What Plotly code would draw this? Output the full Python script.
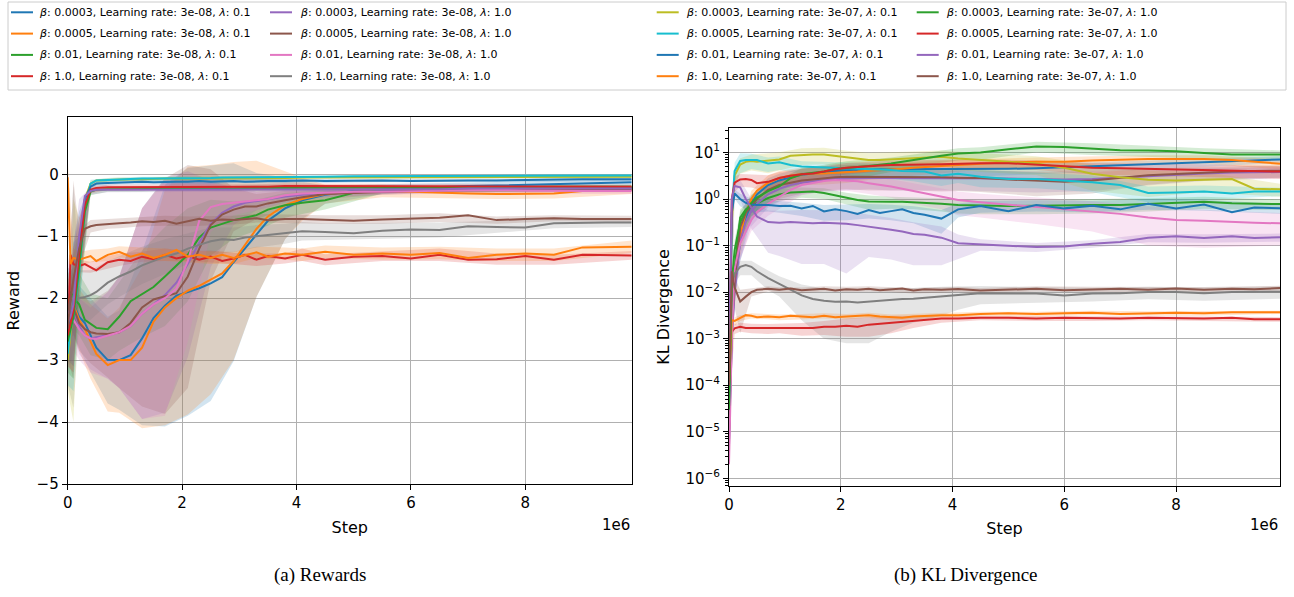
import plotly.graph_objects as go

# ---------------- data (steps in units of 1e6) ----------------
X_STEPS = [0, 0.05, 0.1, 0.2, 0.3, 0.4, 0.5, 0.7, 0.9, 1.1, 1.3, 1.5, 1.7, 1.9,
           2.1, 2.3, 2.5, 2.7, 2.9, 3.1, 3.3, 3.5, 3.8, 4.1, 4.5, 5.0, 5.5, 6.0,
           6.5, 7.0, 7.5, 8.0, 8.5, 9.0, 9.4, 9.86]
XB_STEPS = [0, 0.1, 0.2, 0.4, 0.7, 0.9, 1.3, 1.7, 2.1, 2.5, 2.9, 3.3, 3.8, 4.1,
            4.5, 5.5, 6.5, 7.5, 8.5, 9.86]

BETAS = ["0.0003", "0.0005", "0.01", "1.0"] * 4
LRS = ["3e-08"] * 8 + ["3e-07"] * 8
LAMBDAS = (["0.1"] * 4 + ["1.0"] * 4) * 2
COLORS = ["#1f77b4", "#ff7f0e", "#2ca02c", "#d62728", "#9467bd", "#8c564b",
          "#e377c2", "#7f7f7f", "#bcbd22", "#17becf", "#1f77b4", "#ff7f0e",
          "#2ca02c", "#d62728", "#9467bd", "#8c564b"]

# ---- Reward means ----
R_MEAN_01 = [-2.0, -1.9, -2.1, -2.3, -2.4, -2.6, -2.8, -3.0, -3.0, -2.92, -2.65, -2.32, -2.12, -1.96,
             -1.9, -1.84, -1.76, -1.66, -1.42, -1.2, -0.98, -0.75, -0.55, -0.42, -0.33, -0.27, -0.24, -0.22,
             -0.2, -0.19, -0.18, -0.17, -0.16, -0.14, -0.13, -0.13]
R_MEAN_02 = [-2.2, -2.0, -2.1, -2.35, -2.5, -2.7, -2.9, -3.08, -3.0, -3.0, -2.8, -2.38, -2.15, -2.0,
             -1.88, -1.8, -1.7, -1.6, -1.4, -1.15, -0.88, -0.68, -0.5, -0.4, -0.32, -0.28, -0.27, -0.28,
             -0.3, -0.31, -0.32, -0.32, -0.31, -0.27, -0.26, -0.25]
R_MEAN_03 = [-2.1, -1.9, -2.0, -2.1, -2.35, -2.42, -2.48, -2.5, -2.3, -2.05, -1.93, -1.82, -1.65, -1.48,
             -1.3, -1.02, -0.86, -0.8, -0.74, -0.7, -0.66, -0.57, -0.5, -0.46, -0.42, -0.3, -0.26, -0.25,
             -0.24, -0.24, -0.23, -0.23, -0.22, -0.22, -0.22, -0.22]
R_MEAN_04 = [-2.8, -1.3, -1.45, -1.48, -1.45, -1.5, -1.55, -1.42, -1.38, -1.4, -1.33, -1.37, -1.3, -1.36,
             -1.32, -1.38, -1.33, -1.4, -1.36, -1.3, -1.38, -1.32, -1.36, -1.3, -1.38, -1.33, -1.32, -1.36,
             -1.3, -1.38, -1.37, -1.32, -1.38, -1.3, -1.31, -1.31]
R_MEAN_05 = [-2.3, -2.1, -2.2, -2.45, -2.6, -2.65, -2.63, -2.6, -2.55, -2.45, -2.25, -2.1, -1.95, -1.75,
             -1.45, -1.1, -0.8, -0.62, -0.52, -0.46, -0.43, -0.4, -0.36, -0.33, -0.3, -0.28, -0.27, -0.26,
             -0.25, -0.25, -0.24, -0.24, -0.24, -0.23, -0.23, -0.23]
R_MEAN_06 = [-2.2, -2.0, -2.15, -2.4, -2.5, -2.55, -2.57, -2.58, -2.55, -2.4, -2.15, -2.02, -1.97, -1.92,
             -1.65, -1.2, -0.82, -0.65, -0.57, -0.52, -0.52, -0.47, -0.42, -0.37, -0.32, -0.3, -0.28, -0.27,
             -0.26, -0.26, -0.25, -0.25, -0.25, -0.25, -0.25, -0.25]
R_MEAN_07 = [-2.3, -2.2, -2.35, -2.5, -2.6, -2.65, -2.66, -2.6, -2.55, -2.45, -2.25, -2.1, -2.0, -1.85,
             -1.4, -0.75, -0.53, -0.48, -0.46, -0.45, -0.43, -0.4, -0.34, -0.31, -0.3, -0.28, -0.28, -0.27,
             -0.26, -0.26, -0.25, -0.26, -0.27, -0.27, -0.27, -0.27]
R_MEAN_08 = [-2.6, -2.2, -1.97, -2.0, -1.98, -1.95, -1.9, -1.75, -1.65, -1.57, -1.47, -1.4, -1.33, -1.28,
             -1.2, -1.14, -1.08, -1.05, -1.06, -1.02, -1.0, -0.98, -0.96, -0.92, -0.93, -0.95, -0.91, -0.89,
             -0.9, -0.84, -0.85, -0.86, -0.79, -0.78, -0.78, -0.78]
R_MEAN_09 = [-3.0, -2.6, -2.2, -1.3, -0.4, -0.15, -0.1, -0.09, -0.08, -0.08, -0.08, -0.07, -0.07, -0.07,
             -0.07, -0.07, -0.06, -0.06, -0.06, -0.06, -0.06, -0.06, -0.06, -0.05, -0.05, -0.05, -0.05, -0.05,
             -0.05, -0.04, -0.04, -0.04, -0.04, -0.04, -0.04, -0.04]
R_MEAN_10 = [-2.9, -2.5, -2.3, -1.6, -0.55, -0.15, -0.1, -0.09, -0.08, -0.08, -0.07, -0.07, -0.07, -0.06,
             -0.06, -0.06, -0.06, -0.05, -0.05, -0.05, -0.05, -0.05, -0.04, -0.04, -0.04, -0.03, -0.03, -0.03,
             -0.03, -0.03, -0.03, -0.02, -0.02, -0.02, -0.02, -0.02]
R_MEAN_11 = [-2.5, -2.3, -2.1, -1.2, -0.4, -0.2, -0.15, -0.14, -0.13, -0.13, -0.12, -0.13, -0.12, -0.12,
             -0.12, -0.11, -0.12, -0.11, -0.11, -0.12, -0.11, -0.11, -0.11, -0.1, -0.11, -0.1, -0.1, -0.11,
             -0.1, -0.1, -0.1, -0.09, -0.09, -0.08, -0.08, -0.08]
R_MEAN_12 = [-0.05, -1.45, -1.35, -1.38, -1.35, -1.32, -1.4, -1.3, -1.25, -1.33, -1.28, -1.35, -1.3, -1.22,
             -1.33, -1.3, -1.35, -1.3, -1.35, -1.3, -1.26, -1.33, -1.28, -1.3, -1.25, -1.3, -1.28, -1.3,
             -1.27, -1.35, -1.3, -1.28, -1.3, -1.18, -1.17, -1.17]
R_MEAN_13 = [-2.7, -2.5, -2.3, -1.5, -0.6, -0.28, -0.25, -0.24, -0.24, -0.24, -0.24, -0.24, -0.23, -0.23,
             -0.23, -0.23, -0.23, -0.23, -0.23, -0.22, -0.22, -0.22, -0.22, -0.22, -0.22, -0.22, -0.21, -0.21,
             -0.21, -0.21, -0.21, -0.21, -0.2, -0.2, -0.2, -0.2]
R_MEAN_14 = [-2.6, -2.4, -2.2, -1.3, -0.5, -0.25, -0.22, -0.21, -0.21, -0.21, -0.21, -0.2, -0.2, -0.2,
             -0.2, -0.2, -0.2, -0.2, -0.2, -0.2, -0.2, -0.2, -0.19, -0.19, -0.19, -0.19, -0.19, -0.19,
             -0.19, -0.19, -0.19, -0.19, -0.19, -0.2, -0.2, -0.2]
R_MEAN_15 = [-2.4, -2.3, -2.1, -1.0, -0.35, -0.27, -0.25, -0.25, -0.25, -0.25, -0.25, -0.25, -0.25, -0.25,
             -0.25, -0.25, -0.25, -0.25, -0.24, -0.24, -0.24, -0.24, -0.24, -0.24, -0.24, -0.24, -0.24, -0.24,
             -0.24, -0.23, -0.23, -0.23, -0.23, -0.23, -0.23, -0.23]
R_MEAN_16 = [-2.5, -2.0, -1.7, -1.2, -0.88, -0.84, -0.82, -0.8, -0.79, -0.78, -0.76, -0.77, -0.75, -0.8,
             -0.76, -0.72, -0.75, -0.73, -0.74, -0.73, -0.71, -0.74, -0.72, -0.72, -0.73, -0.75, -0.73, -0.72,
             -0.7, -0.66, -0.74, -0.72, -0.71, -0.72, -0.72, -0.72]

# ---- Reward std (at XB_STEPS) ----
R_STD_01 = [0.5, 0.5, 0.5, 0.6, 0.7, 0.8, 1.4, 1.95, 2.0, 1.9, 1.6, 1.0, 0.5, 0.3, 0.15, 0.08, 0.06, 0.05, 0.05, 0.05]
R_STD_02 = [0.5, 0.5, 0.5, 0.6, 0.75, 0.85, 1.3, 1.9, 2.0, 1.85, 1.6, 1.1, 0.55, 0.35, 0.15, 0.1, 0.08, 0.08, 0.08, 0.07]
R_STD_03 = [0.5, 0.5, 0.5, 0.5, 0.5, 0.55, 0.7, 0.8, 0.75, 0.45, 0.3, 0.25, 0.2, 0.18, 0.15, 0.05, 0.04, 0.03, 0.03, 0.03]
R_STD_04 = [0.4, 0.1, 0.1, 0.09, 0.1, 0.1, 0.08, 0.1, 0.08, 0.1, 0.09, 0.1, 0.08, 0.1, 0.09, 0.08, 0.1, 0.09, 0.08, 0.07]
R_STD_05 = [0.4, 0.4, 0.45, 0.5, 0.7, 0.9, 1.7, 1.9, 1.5, 0.7, 0.3, 0.15, 0.1, 0.08, 0.07, 0.05, 0.04, 0.04, 0.04, 0.04]
R_STD_06 = [0.4, 0.4, 0.45, 0.5, 0.7, 0.9, 1.6, 1.9, 1.8, 0.9, 0.35, 0.2, 0.15, 0.1, 0.08, 0.05, 0.04, 0.04, 0.04, 0.04]
R_STD_07 = [1.0, 0.5, 0.5, 0.55, 0.7, 0.9, 1.7, 1.9, 1.3, 0.4, 0.2, 0.15, 0.1, 0.08, 0.06, 0.05, 0.05, 0.05, 0.05, 0.05]
R_STD_08 = [0.8, 1.8, 0.45, 0.4, 0.35, 0.33, 0.3, 0.28, 0.25, 0.22, 0.2, 0.18, 0.16, 0.15, 0.14, 0.13, 0.12, 0.1, 0.08, 0.07]
R_STD_09 = [0.5, 1.8, 0.6, 0.05, 0.03, 0.03, 0.03, 0.03, 0.03, 0.03, 0.03, 0.02, 0.02, 0.02, 0.02, 0.02, 0.02, 0.02, 0.02, 0.02]
R_STD_10 = [0.5, 1.2, 0.6, 0.06, 0.03, 0.03, 0.03, 0.03, 0.03, 0.02, 0.02, 0.02, 0.02, 0.02, 0.02, 0.02, 0.02, 0.02, 0.02, 0.02]
R_STD_11 = [0.5, 1.0, 0.6, 0.06, 0.04, 0.04, 0.04, 0.04, 0.04, 0.04, 0.03, 0.03, 0.03, 0.03, 0.03, 0.03, 0.03, 0.03, 0.03, 0.03]
R_STD_12 = [0.3, 0.15, 0.12, 0.1, 0.1, 0.09, 0.1, 0.1, 0.09, 0.1, 0.1, 0.09, 0.1, 0.1, 0.1, 0.1, 0.1, 0.1, 0.1, 0.1]
R_STD_13 = [0.5, 1.0, 0.6, 0.06, 0.04, 0.04, 0.04, 0.04, 0.04, 0.04, 0.04, 0.04, 0.04, 0.04, 0.04, 0.03, 0.03, 0.03, 0.03, 0.03]
R_STD_14 = [0.5, 1.0, 0.6, 0.06, 0.04, 0.04, 0.04, 0.04, 0.04, 0.04, 0.04, 0.04, 0.04, 0.04, 0.04, 0.03, 0.03, 0.03, 0.03, 0.03]
R_STD_15 = [0.5, 1.0, 0.6, 0.06, 0.04, 0.04, 0.04, 0.04, 0.04, 0.04, 0.04, 0.04, 0.04, 0.04, 0.04, 0.03, 0.03, 0.03, 0.03, 0.03]
R_STD_16 = [0.5, 1.6, 0.3, 0.1, 0.08, 0.08, 0.08, 0.08, 0.08, 0.07, 0.07, 0.07, 0.07, 0.07, 0.07, 0.07, 0.07, 0.06, 0.05, 0.05]

# ---- KL means ----
KL_MEAN_01 = [6.3e-6, 0.0016, 0.0126, 0.126, 0.4, 0.79, 1.26, 2.0, 2.51, 2.95, 3.31, 3.55, 3.8, 3.98,
              4.17, 4.27, 4.27, 4.37, 4.37, 4.37, 4.37, 4.37, 4.37, 4.37, 4.37, 4.47, 4.57, 4.79,
              5.01, 5.25, 5.5, 5.75, 6.03, 6.31, 6.76, 7.08]
KL_MEAN_02 = [1e-5, 0.0032, 0.02, 0.16, 0.5, 1.0, 1.51, 2.24, 2.82, 3.16, 3.39, 3.55, 3.55, 3.63,
              3.72, 3.89, 4.07, 4.17, 4.27, 4.47, 4.68, 4.79, 5.13, 5.37, 5.75, 6.17, 6.31, 6.31,
              6.76, 7.08, 7.24, 7.24, 7.24, 6.92, 6.31, 5.75]
KL_MEAN_03 = [1e-5, 0.0032, 0.0316, 0.4, 0.6, 0.72, 0.81, 1.05, 1.26, 1.38, 1.41, 1.45, 1.35, 1.2,
              1.07, 0.95, 0.89, 0.87, 0.87, 0.87, 0.85, 0.83, 0.79, 0.74, 0.72, 0.71, 0.72, 0.74,
              0.74, 0.74, 0.79, 0.83, 0.87, 0.81, 0.79, 0.78]
KL_MEAN_04 = [3.2e-5, 0.0014, 0.00166, 0.0018, 0.0017, 0.0017, 0.0017, 0.00166, 0.0017, 0.0017, 0.00166, 0.0017, 0.0018, 0.0018,
              0.0019, 0.0018, 0.002, 0.0021, 0.0022, 0.0023, 0.0024, 0.0025, 0.0027, 0.0027, 0.0028, 0.0028, 0.0027, 0.0028,
              0.0027, 0.0027, 0.0028, 0.0027, 0.0027, 0.0028, 0.0026, 0.0026]
KL_MEAN_05 = [5e-6, 0.001, 0.01, 0.126, 0.32, 0.56, 0.79, 1.26, 1.66, 2.0, 2.24, 2.4, 2.57, 2.69,
              2.75, 2.82, 2.82, 2.82, 2.82, 2.82, 2.82, 2.82, 2.82, 2.82, 2.82, 2.75, 2.69, 2.63,
              2.69, 2.88, 3.16, 3.39, 3.55, 3.72, 3.8, 3.8]
KL_MEAN_06 = [1e-5, 0.002, 0.0158, 0.25, 0.5, 0.71, 1.0, 1.58, 2.0, 2.24, 2.51, 2.63, 2.82, 2.95,
              3.02, 3.02, 3.02, 3.02, 3.02, 3.02, 3.02, 3.02, 2.95, 2.88, 2.82, 2.63, 2.45, 2.34,
              2.51, 2.88, 3.24, 3.47, 3.72, 3.89, 3.98, 4.07]
KL_MEAN_07 = [2e-6, 0.001, 0.0316, 0.112, 0.2, 0.355, 0.525, 0.79, 1.12, 1.58, 2.0, 2.24, 2.45, 2.57,
              2.51, 2.4, 2.19, 2.04, 1.86, 1.66, 1.48, 1.32, 1.15, 0.95, 0.85, 0.76, 0.69, 0.62,
              0.55, 0.48, 0.4, 0.355, 0.34, 0.32, 0.31, 0.3]
KL_MEAN_08 = [3.2e-5, 0.0126, 0.025, 0.035, 0.038, 0.035, 0.028, 0.02, 0.015, 0.0112, 0.0085, 0.0071, 0.0065, 0.0062,
              0.0063, 0.006, 0.0063, 0.0065, 0.0069, 0.0071, 0.0072, 0.0076, 0.0081, 0.0087, 0.0095, 0.0095, 0.0093, 0.0085,
              0.0093, 0.0095, 0.01, 0.01, 0.0095, 0.01, 0.0102, 0.0102]
KL_MEAN_09 = [1e-4, 0.32, 3.2, 5.5, 6.3, 6.6, 6.3, 6.6, 7.1, 8.5, 8.9, 9.1, 9.1, 8.5,
              7.9, 7.2, 6.9, 6.9, 7.1, 7.2, 7.6, 7.8, 8.1, 7.4, 6.8, 6.3, 5.8, 4.7,
              3.5, 2.95, 2.6, 2.5, 2.6, 2.7, 1.66, 1.62]
KL_MEAN_10 = [6.3e-5, 0.5, 4.0, 6.6, 6.9, 6.9, 6.9, 5.8, 6.2, 5.4, 5.0, 4.9, 4.8, 4.8,
              4.7, 4.6, 4.5, 4.4, 4.2, 4.0, 3.9, 3.9, 3.2, 3.5, 3.0, 2.7, 2.7, 2.45,
              2.3, 2.0, 1.35, 1.38, 1.45, 1.32, 1.45, 1.45]
KL_MEAN_11 = [3e-5, 0.5, 1.32, 1.0, 0.83, 0.76, 0.74, 0.74, 0.71, 0.72, 0.63, 0.71, 0.54, 0.6,
              0.55, 0.48, 0.58, 0.5, 0.55, 0.6, 0.5, 0.46, 0.38, 0.6, 0.71, 0.55, 0.74, 0.63,
              0.72, 0.6, 0.79, 0.63, 0.76, 0.52, 0.66, 0.63]
KL_MEAN_12 = [1e-4, 0.0025, 0.0024, 0.0028, 0.0032, 0.0031, 0.0029, 0.003, 0.0029, 0.0031, 0.003, 0.0029, 0.0031, 0.0029,
              0.003, 0.0031, 0.0032, 0.003, 0.0029, 0.0028, 0.003, 0.0031, 0.0032, 0.0032, 0.0034, 0.0035, 0.0034, 0.0035,
              0.0036, 0.0034, 0.0035, 0.0036, 0.0035, 0.0037, 0.0037, 0.0037]
KL_MEAN_13 = [3e-5, 0.016, 0.08, 0.32, 0.56, 0.83, 1.07, 1.48, 1.86, 2.8, 3.4, 3.6, 3.9, 4.4,
              4.7, 4.9, 5.1, 5.4, 5.8, 6.3, 6.9, 7.4, 8.5, 9.5, 10.0, 11.7, 13.5, 13.2,
              12.3, 11.2, 11.0, 10.7, 9.8, 9.1, 9.1, 9.1]
KL_MEAN_14 = [1e-4, 1.0, 2.24, 2.63, 2.69, 2.57, 2.19, 2.34, 2.82, 3.16, 3.39, 3.55, 3.89, 4.37,
              4.68, 4.9, 5.0, 5.25, 5.37, 5.37, 5.5, 5.5, 5.62, 5.75, 5.89, 5.89, 5.5, 5.13,
              4.68, 4.57, 4.47, 4.37, 4.27, 4.07, 3.98, 3.89]
KL_MEAN_15 = [3.2e-4, 1.0, 1.9, 1.78, 1.0, 0.63, 0.42, 0.32, 0.31, 0.32, 0.31, 0.3, 0.31, 0.3,
              0.295, 0.275, 0.257, 0.24, 0.22, 0.2, 0.178, 0.17, 0.148, 0.112, 0.107, 0.102, 0.093, 0.095,
              0.11, 0.12, 0.148, 0.158, 0.145, 0.158, 0.145, 0.151]
KL_MEAN_16 = [1e-4, 0.028, 0.0126, 0.0063, 0.008, 0.01, 0.0112, 0.0118, 0.0112, 0.012, 0.011, 0.0115, 0.0118, 0.0108,
              0.0115, 0.0112, 0.0118, 0.011, 0.0115, 0.012, 0.0108, 0.0115, 0.0112, 0.0116, 0.0108, 0.0113, 0.0118, 0.011,
              0.0115, 0.0118, 0.0112, 0.012, 0.0113, 0.0118, 0.0115, 0.0122]

# ---- KL std (at XB_STEPS) ----
KL_STD_01 = [0, 0.005, 0.08, 0.4, 0.8, 1.0, 1.2, 1.3, 1.3, 1.3, 1.3, 1.3, 1.3, 1.3, 1.3, 1.2, 1.2, 1.2, 1.2, 1.2]
KL_STD_02 = [0, 0.01, 0.1, 0.5, 1.0, 1.2, 1.4, 1.5, 1.5, 1.5, 1.5, 1.5, 1.5, 1.5, 1.5, 1.5, 1.5, 1.5, 1.5, 1.4]
KL_STD_03 = [0, 0.02, 0.2, 0.3, 0.35, 0.35, 0.35, 0.35, 0.3, 0.3, 0.25, 0.25, 0.25, 0.25, 0.25, 0.25, 0.25, 0.25, 0.25, 0.2]
KL_STD_04 = [0, 0.0004, 0.0004, 0.0004, 0.0004, 0.0004, 0.0005, 0.0006, 0.0008, 0.0009, 0.0009, 0.0007, 0.0005, 0.0004, 0.0003, 0.0003, 0.0003, 0.0003, 0.0003, 0.0003]
KL_STD_05 = [0, 0.005, 0.08, 0.3, 0.6, 0.8, 1.0, 1.1, 1.2, 1.2, 1.3, 1.3, 1.3, 1.3, 1.3, 1.3, 1.2, 1.2, 1.1, 1.0]
KL_STD_06 = [0, 0.01, 0.15, 0.35, 0.8, 1.0, 1.2, 1.3, 1.4, 1.5, 1.5, 1.5, 1.5, 1.4, 1.4, 1.3, 1.2, 1.2, 1.2, 1.2]
KL_STD_07 = [0, 0.02, 0.06, 0.15, 0.35, 0.5, 0.8, 1.0, 1.0, 0.9, 0.8, 0.7, 0.55, 0.5, 0.45, 0.4, 0.35, 0.3, 0.25, 0.2]
KL_STD_08 = [0, 0.01, 0.012, 0.012, 0.009, 0.007, 0.006, 0.0055, 0.0055, 0.0055, 0.0055, 0.005, 0.005, 0.0045, 0.004, 0.0035, 0.003, 0.003, 0.003, 0.003]
KL_STD_09 = [0, 1.5, 2.0, 2.5, 3.0, 3.0, 3.5, 3.5, 3.0, 3.0, 3.0, 3.0, 3.0, 3.0, 3.0, 2.5, 2.0, 1.5, 1.2, 0.5]
KL_STD_10 = [0, 2.0, 3.0, 2.5, 2.0, 2.0, 1.5, 1.5, 1.5, 1.5, 1.5, 1.5, 1.3, 1.3, 1.2, 1.0, 0.9, 0.5, 0.5, 0.3]
KL_STD_11 = [0, 0.3, 0.3, 0.25, 0.2, 0.2, 0.2, 0.2, 0.2, 0.2, 0.2, 0.2, 0.2, 0.2, 0.2, 0.2, 0.2, 0.2, 0.2, 0.15]
KL_STD_12 = [0, 0.0005, 0.0004, 0.0004, 0.0004, 0.0004, 0.0004, 0.0004, 0.0004, 0.0004, 0.0004, 0.0004, 0.0004, 0.0004, 0.0004, 0.0004, 0.0004, 0.0004, 0.0004, 0.0003]
KL_STD_13 = [0, 0.05, 0.2, 0.4, 0.7, 0.8, 1.2, 1.5, 1.8, 2.0, 2.0, 2.2, 2.5, 2.8, 3.0, 3.5, 3.5, 3.0, 2.5, 2.0]
KL_STD_14 = [0, 0.8, 0.8, 0.8, 0.9, 1.0, 1.1, 1.2, 1.3, 1.3, 1.3, 1.3, 1.3, 1.3, 1.3, 1.3, 1.3, 1.3, 1.3, 1.2]
KL_STD_15 = [0, 0.5, 0.8, 0.4, 0.25, 0.25, 0.27, 0.27, 0.27, 0.2, 0.17, 0.14, 0.11, 0.06, 0.03, 0.02, 0.02, 0.03, 0.03, 0.03]
KL_STD_16 = [0, 0.008, 0.005, 0.002, 0.0015, 0.0015, 0.0015, 0.0015, 0.0015, 0.0015, 0.0015, 0.0015, 0.0015, 0.0015, 0.0015, 0.0015, 0.0015, 0.0015, 0.0015, 0.0015]

REWARD_MEANS = [R_MEAN_01, R_MEAN_02, R_MEAN_03, R_MEAN_04, R_MEAN_05, R_MEAN_06, R_MEAN_07, R_MEAN_08,
                R_MEAN_09, R_MEAN_10, R_MEAN_11, R_MEAN_12, R_MEAN_13, R_MEAN_14, R_MEAN_15, R_MEAN_16]
REWARD_STDS = [R_STD_01, R_STD_02, R_STD_03, R_STD_04, R_STD_05, R_STD_06, R_STD_07, R_STD_08,
               R_STD_09, R_STD_10, R_STD_11, R_STD_12, R_STD_13, R_STD_14, R_STD_15, R_STD_16]
KL_MEANS = [KL_MEAN_01, KL_MEAN_02, KL_MEAN_03, KL_MEAN_04, KL_MEAN_05, KL_MEAN_06, KL_MEAN_07, KL_MEAN_08,
            KL_MEAN_09, KL_MEAN_10, KL_MEAN_11, KL_MEAN_12, KL_MEAN_13, KL_MEAN_14, KL_MEAN_15, KL_MEAN_16]
KL_STDS = [KL_STD_01, KL_STD_02, KL_STD_03, KL_STD_04, KL_STD_05, KL_STD_06, KL_STD_07, KL_STD_08,
           KL_STD_09, KL_STD_10, KL_STD_11, KL_STD_12, KL_STD_13, KL_STD_14, KL_STD_15, KL_STD_16]

for arr in REWARD_MEANS + KL_MEANS:
    assert len(arr) == len(X_STEPS), len(arr)
for arr in REWARD_STDS + KL_STDS:
    assert len(arr) == len(XB_STEPS), len(arr)

# ---------------- figure ----------------
W, H = 1294, 597
FONT = "DejaVu Sans"


def px_x(p):
    return p / W


def px_y(p):
    return 1 - p / H


def rgba(hexc, a):
    h = hexc.lstrip("#")
    return "rgba(%d,%d,%d,%.2f)" % (int(h[0:2], 16), int(h[2:4], 16), int(h[4:6], 16), a)


band_idx = [X_STEPS.index(v) for v in XB_STEPS]
names = ["<i>β</i>: %s, Learning rate: %s, <i>λ</i>: %s" % (b, lr, la)
         for b, lr, la in zip(BETAS, LRS, LAMBDAS)]

fig = go.Figure()

# bands first (below all lines, as in matplotlib)
for i in range(16):
    c = COLORS[i]
    m, s = REWARD_MEANS[i], REWARD_STDS[i]
    lo = [m[j] - sd for j, sd in zip(band_idx, s)]
    hi = [m[j] + sd for j, sd in zip(band_idx, s)]
    fig.add_trace(go.Scatter(x=XB_STEPS + XB_STEPS[::-1], y=hi + lo[::-1], fill="toself",
                             fillcolor=rgba(c, 0.2), line=dict(width=0), mode="lines",
                             hoverinfo="skip", showlegend=False, xaxis="x", yaxis="y"))
for i in range(16):
    c = COLORS[i]
    m, s = KL_MEANS[i], KL_STDS[i]
    lo = [max(m[j] - sd, 1e-7) for j, sd in zip(band_idx, s)]
    hi = [m[j] + sd for j, sd in zip(band_idx, s)]
    fig.add_trace(go.Scatter(x=XB_STEPS + XB_STEPS[::-1], y=hi + lo[::-1], fill="toself",
                             fillcolor=rgba(c, 0.2), line=dict(width=0), mode="lines",
                             hoverinfo="skip", showlegend=False, xaxis="x2", yaxis="y2"))

for i in range(16):
    fig.add_trace(go.Scatter(x=X_STEPS, y=REWARD_MEANS[i], mode="lines", name=names[i],
                             line=dict(color=COLORS[i], width=2), showlegend=False,
                             xaxis="x", yaxis="y"))
for i in range(16):
    fig.add_trace(go.Scatter(x=X_STEPS, y=KL_MEANS[i], mode="lines", name=names[i],
                             line=dict(color=COLORS[i], width=2), showlegend=False,
                             xaxis="x2", yaxis="y2"))

axis_common = dict(showgrid=True, gridcolor="#b0b0b0", gridwidth=1, zeroline=False,
                   showline=True, mirror=True, linecolor="black", linewidth=1,
                   ticks="outside", ticklen=5, tickwidth=1, tickcolor="black",
                   tickfont=dict(family=FONT, size=15, color="black"), automargin=False)
title_font = dict(family=FONT, size=16, color="black")

kl_tickvals = [1e-6, 1e-5, 1e-4, 1e-3, 1e-2, 1e-1, 1, 10]
kl_ticktext = ["10<sup>−6</sup>", "10<sup>−5</sup>", "10<sup>−4</sup>", "10<sup>−3</sup>",
               "10<sup>−2</sup>", "10<sup>−1</sup>", "10<sup>0</sup>", "10<sup>1</sup>"]

# legend (4 columns x 4 rows) drawn as line samples + text, like the matplotlib box
LEG_LINE_X = [11, 270, 656.7, 916.7]
LEG_TEXT_X = [38, 299, 685, 945]
LEG_ROW_Y = [12.3, 33.6, 54.9, 76.2]
LEG_LINE_LEN = 22

shapes = [dict(type="rect", xref="paper", yref="paper", x0=px_x(8), x1=px_x(1286),
               y0=px_y(90), y1=px_y(2), line=dict(color="#cccccc", width=1),
               fillcolor="rgba(255,255,255,0.8)", layer="below")]
annotations = []
for i in range(16):
    col, row = i // 4, i % 4
    yy = px_y(LEG_ROW_Y[row])
    shapes.append(dict(type="line", xref="paper", yref="paper",
                       x0=px_x(LEG_LINE_X[col]), x1=px_x(LEG_LINE_X[col] + LEG_LINE_LEN),
                       y0=yy, y1=yy, line=dict(color=COLORS[i], width=2)))
    annotations.append(dict(text=names[i], x=px_x(LEG_TEXT_X[col]), y=yy, xref="paper", yref="paper",
                            xanchor="left", yanchor="middle", showarrow=False, borderpad=0,
                            font=dict(family=FONT, size=11, color="black")))

annotations += [
    dict(text="1e6", x=px_x(631.7), y=px_y(525), xref="paper", yref="paper",
         xanchor="right", yanchor="middle", showarrow=False,
         font=dict(family=FONT, size=15, color="black")),
    dict(text="1e6", x=px_x(1280), y=px_y(525), xref="paper", yref="paper",
         xanchor="right", yanchor="middle", showarrow=False,
         font=dict(family=FONT, size=15, color="black")),
    dict(text="(a) Rewards", x=px_x(320), y=px_y(575), xref="paper", yref="paper",
         xanchor="center", yanchor="middle", showarrow=False,
         font=dict(family="Liberation Serif", size=19, color="black")),
    dict(text="(b) KL Divergence", x=px_x(966), y=px_y(575), xref="paper", yref="paper",
         xanchor="center", yanchor="middle", showarrow=False,
         font=dict(family="Liberation Serif", size=19, color="black")),
]

fig.update_layout(
    width=W, height=H, margin=dict(l=0, r=0, t=0, b=0),
    paper_bgcolor="white", plot_bgcolor="white", template="none",
    font=dict(family=FONT, color="black"), showlegend=False,
    xaxis=dict(domain=[px_x(67.7), px_x(631.7)], range=[0, 9.86], tickvals=[0, 2, 4, 6, 8],
               anchor="y", title=dict(text="Step", font=title_font, standoff=10), **axis_common),
    yaxis=dict(domain=[px_y(484), px_y(117.3)], range=[-5, 0.92], tickvals=[-5, -4, -3, -2, -1, 0],
               anchor="x", title=dict(text="Reward", font=title_font, standoff=12), **axis_common),
    xaxis2=dict(domain=[px_x(729), px_x(1280)], range=[0, 9.86], tickvals=[0, 2, 4, 6, 8],
                anchor="y2", title=dict(text="Step", font=title_font, standoff=10), **axis_common),
    yaxis2=dict(domain=[px_y(485.7), px_y(128.3)], type="log", range=[-6.16, 1.52],
                tickvals=kl_tickvals, ticktext=kl_ticktext, anchor="x2",
                minor=dict(ticks="outside", ticklen=3, tickcolor="black", dtick="D1", showgrid=False),
                title=dict(text="KL Divergence", font=title_font, standoff=11), **axis_common),
    shapes=shapes,
    annotations=annotations,
)

# remove the default 8px page margin so the figure sits at the window's top-left corner
fig.write_html("out.html", config={"displayModeBar": False},
               post_script="document.body.style.margin='0px';")
